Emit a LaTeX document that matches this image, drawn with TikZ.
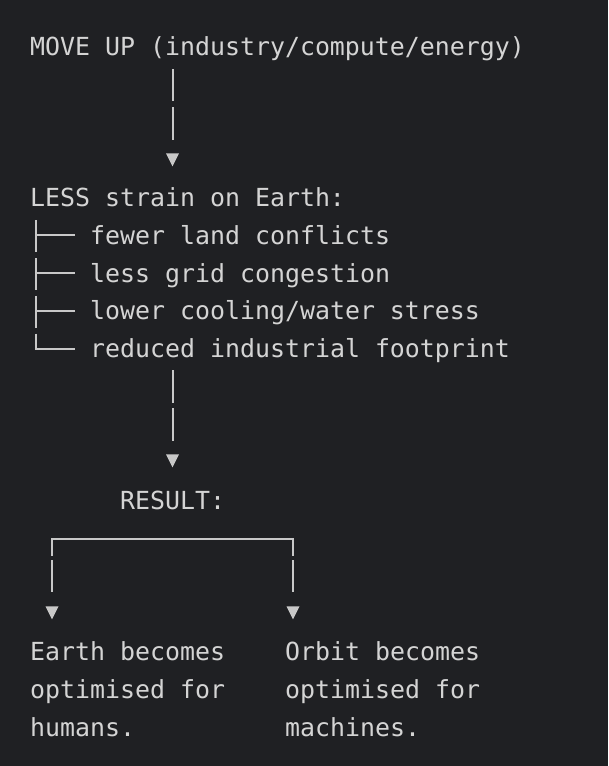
\documentclass[tikz,border=0pt]{standalone}
\usepackage{fontspec}
\newfontfamily\diagmono{DejaVu Sans Mono}
\usetikzlibrary{shapes.geometric,calc}
\definecolor{bgc}{HTML}{1F2023}
\definecolor{fgc}{HTML}{D4D4D4}
\definecolor{lnc}{HTML}{C8C8C8}
\begin{document}
\begin{tikzpicture}[x=1pt,y=-1pt,
  txt/.style={anchor=base west, inner sep=0pt, text=fgc, align=left,
    font=\diagmono\fontsize{24.9}{37.83}\selectfont},
  conn/.style={draw=lnc, line width=2pt, line join=miter},
  tip/.style={isosceles triangle, isosceles triangle stretches,
    shape border rotate=-90, minimum width=13pt, minimum height=13pt,
    inner sep=0pt, fill=lnc, draw=none, anchor=apex}]
\fill[bgc] (0,0) rectangle (608,766);
\useasboundingbox (0,0) rectangle (608,766);

% texts
\node[txt] (move) at (30,55) {MOVE UP (industry/compute/energy)};
\node[txt] (less) at (30,206.3) {LESS strain on Earth:};
\node[txt] (i1) at (90,244.2) {fewer land conflicts};
\node[txt] (i2) at (90,282.0) {less grid congestion};
\node[txt] (i3) at (90,319.9) {lower cooling/water stress};
\node[txt] (i4) at (90,357.7) {reduced industrial footprint};
\node[txt] (res) at (120,509) {RESULT:};
% multi-line nodes: base anchor sits on the last line's baseline
\node[txt] (earth) at (30,736) {Earth becomes\\optimised for\\humans.};
\node[txt] (orbit) at (285,736) {Orbit becomes\\optimised for\\machines.};

% arrow tips
\node[tip] (t1) at (172.5,167) {};
\node[tip] (t2) at (172.5,468) {};
\node[tip] (tl) at (52,620) {};
\node[tip] (tr) at (293,620) {};

% move up -> less strain
\draw[conn] ($(t1.apex)+(0,-98)$) -- ($(t1.apex)+(0,-66)$)
            ($(t1.apex)+(0,-60)$) -- ($(t1.apex)+(0,-27)$);

% tree branches
\foreach \i in {i1,i2,i3}{
  \draw[conn] ($(\i.base west)+(-54,-24)$) -- ($(\i.base west)+(-54,8)$)
              ($(\i.base west)+(-54,-9)$) -- ($(\i.base west)+(-15,-9)$);
}
\draw[conn] ($(i4.base west)+(-54,-24)$) -- ($(i4.base west)+(-54,-9)$)
            -- ($(i4.base west)+(-15,-9)$);

% less strain -> result
\draw[conn] ($(t2.apex)+(0,-98)$) -- ($(t2.apex)+(0,-65)$)
            ($(t2.apex)+(0,-60)$) -- ($(t2.apex)+(0,-27)$);

% result split
\draw[conn] ($(tl.apex)+(0,-64)$) -- ($(tl.apex)+(0,-81)$)
            -- ($(tr.apex)+(0,-81)$) -- ($(tr.apex)+(0,-64)$);
\draw[conn] ($(tl.apex)+(0,-60)$) -- ($(tl.apex)+(0,-28)$);
\draw[conn] ($(tr.apex)+(0,-60)$) -- ($(tr.apex)+(0,-28)$);
\end{tikzpicture}
\end{document}
